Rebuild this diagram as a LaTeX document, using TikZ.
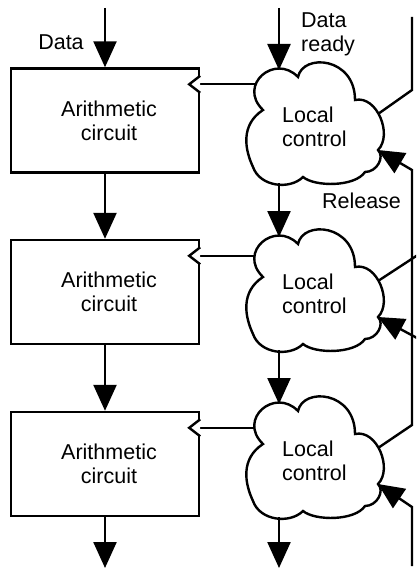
\documentclass[tikz,border=0pt]{standalone}
\usepackage{fontspec}
\setmainfont{Liberation Sans}
\usetikzlibrary{arrows.meta,calc}
\tikzset{
  wire/.style={line width=2.4pt},
  arr/.style={line width=2.4pt, -{Triangle[length=26pt,width=23pt]}},
  box/.style={draw, line width=2.4pt, minimum width=188pt, minimum height=104pt, inner sep=0pt},
  lbl/.style={font=\fontsize{21.5}{24}\selectfont, inner sep=0pt},
  clk/.style={line width=2.4pt, fill=white},
}
\newcommand\mycloud[3]{%
  \begin{scope}[shift={(#2,#3)}]
    \draw[wire, fill=white] (-52,-15) .. controls (-78,-40) and (-40,-72) .. (-17,-48)
      .. controls (-12,-72) and (40,-68) .. (40,-25)
      .. controls (62,-30) and (78,10) .. (63,25)
      .. controls (70,32) and (62,47) .. (50,47)
      .. controls (40,62) and (0,62) .. (-12,52)
      .. controls (-25,65) and (-55,62) .. (-62,42)
      .. controls (-70,25) and (-75,0) .. cycle;
    \coordinate (#1-top) at (-36,-55);
    \coordinate (#1-bot) at (-36,58);
    \coordinate (#1-left) at (-60,-35);
    \coordinate (#1-out) at (63,-11);
    \coordinate (#1-in) at (63,25);
    \node[lbl, align=left, anchor=base west] (#1-t) at (-33,21.5) {Local\\control};
  \end{scope}}
\begin{document}
\begin{tikzpicture}[x=1pt, y=-1pt]
  \useasboundingbox (0,0) rectangle (416,572);
  \clip (0,0) rectangle (416,572);

  % boxes
  \node[box] (b1) at (105,120.5) {};
  \node[box] (b2) at (105,292) {};
  \node[box] (b3) at (105,464) {};
  \node[lbl, align=center] (b1t) at (109,120.5) {Arithmetic\\circuit};
  \node[lbl, align=center] (b2t) at (109,292) {Arithmetic\\circuit};
  \node[lbl, align=center] (b3t) at (109,464) {Arithmetic\\circuit};

  % clouds
  \mycloud{c1}{315}{125}
  \mycloud{c2}{315}{292}
  \mycloud{c3}{315}{459}

  % clock connections box <- cloud
  \foreach \b/\c in {b1/c1,b2/c2,b3/c3}{
    \coordinate (\b-clk) at ($(\b.north east)+(0,17)$);
    \draw[wire] (\b-clk -| \c-left) -- (\b-clk);
    \draw[clk] ($(\b-clk)+(0,-8.5)$) -- ($(\b-clk)+(-11,0)$) -- ($(\b-clk)+(0,8.5)$);
  }

  % data path arrows
  \coordinate (d-top) at (105,8);
  \coordinate (d-end) at (105,568);
  \draw[arr] (d-top) -- (b1.north);
  \draw[arr] (b1.south) -- (b2.north);
  \draw[arr] (b2.south) -- (b3.north);
  \draw[arr] (b3.south) -- (d-end);

  % control path arrows
  \coordinate (r-top) at (279,8);
  \coordinate (r-end) at (279,568);
  \draw[arr] (r-top) -- (c1-top);
  \draw[arr] (c1-bot) -- (c2-top);
  \draw[arr] (c2-bot) -- (c3-top);
  \draw[arr] (c3-bot) -- (r-end);

  % right-hand handshake wires
  \coordinate (k1) at (412,90);
  \coordinate (k1t) at (412,17);
  \draw[wire] (c1-out) -- (k1) -- (k1t);

  \coordinate (k3) at (412,425);
  \coordinate (kr) at (412,170);
  \draw[arr] (c3-out) -- (k3) -- (kr) -- (c1-in);

  \coordinate (k2o) at (430,247);
  \coordinate (k2i) at (430,345);
  \draw[wire] (c2-out) -- (k2o);
  \draw[arr] (k2i) -- (c2-in);

  \coordinate (k4) at (412,507);
  \coordinate (k4b) at (412,566);
  \draw[arr] (k4b) -- (k4) -- (c3-in);

  % labels
  \node[lbl, anchor=base] (dl) at (61,50) {Data};
  \node[lbl, align=left, anchor=base west] (drl) at (301,52) {Data\\ready};
  \node[lbl, anchor=base] (rl) at (361.5,208) {Release};
\end{tikzpicture}
\end{document}
